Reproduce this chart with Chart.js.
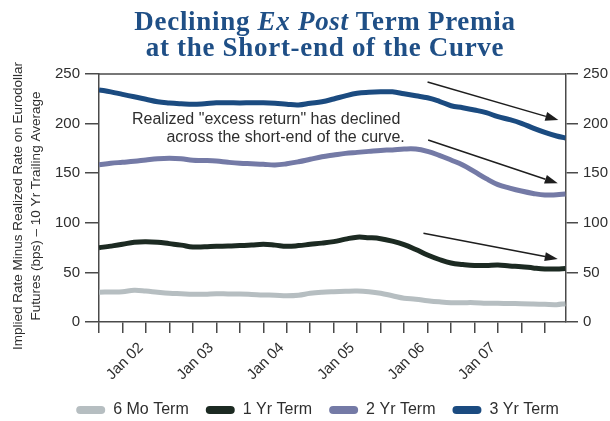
<!DOCTYPE html>
<html><head><meta charset="utf-8">
<script src="https://cdn.jsdelivr.net/npm/chart.js@4"></script>
<style>
html,body{margin:0;padding:0;background:#fff;overflow:hidden;}
#wrap{position:relative;width:610px;height:421px;}
canvas{position:absolute;left:0;top:0;}
#title{position:absolute;left:40px;top:8px;width:570px;text-align:center;font-family:"Liberation Serif","Times New Roman",serif;font-weight:bold;font-size:27px;line-height:26px;letter-spacing:0.7px;color:#1f4f86;}
</style></head>
<body><div id="wrap"><canvas id="c" width="610" height="421"></canvas><div id="title">Declining <i>Ex Post</i> Term Premia<br>at the Short-end of the Curve</div></div>
<script>
// x positions: months since Jan 2001 (4 = May 2001)
const months = [4,6,8,10,12,14,16,18,20,22,24,26,28,30,32,34,36,38,40,42,44,46,48,50,52,54,56,58,60,62,64,66,68,70,72,74,76,78,80,82,83.5];
const sixMo = [30,30.3,30.6,32,31.2,30,29,28.5,28,28,28.5,28.3,28.2,27.8,27.3,27,26.5,27,28.9,30,30.6,31,31.2,30.5,29,26.5,24,23,21.5,20.3,19.5,19.5,19.5,19,18.8,18.6,18.5,18.2,17.8,17.5,18.5];
const oneYr = [74.9,76.5,78.3,80.5,81,80.5,79,77.5,75.6,75.8,76.3,76.5,77,77.5,78.3,77.5,76.3,77,78.3,79.5,81,83.5,85.5,85,84,81.5,78,73,67.5,63,59.5,58,57,57,57.5,56.5,55.8,54.5,53.5,53.5,54];
const twoYr = [158.5,160,161,162,163.3,164.5,165,164.5,163,162.8,162.3,161,160,159.5,159,158.3,159.5,161.5,164,166.5,168.3,170,171,172,173,173.5,174.4,174.4,172,168,163.3,158.3,151.5,144.5,138.5,135,132,129.6,128,128.3,129];
const threeYr = [234,232,229.5,227,224.5,222,220.8,220,219.4,220,221,221,220.8,221,221,220.5,219.5,218.8,220.5,222,224.8,228,230.5,231.5,232,232,230,228,226,222.5,218,216,213.7,211,207,204,200.3,195.5,191.2,187.5,185.5];
const seriesNames = ['6 Mo Term','1 Yr Term','2 Yr Term','3 Yr Term'];
const tickMonths = [4,8,12,16,20,24,28,32,36,40,44,48,52,56,60,64,68,72,76,80];
const janMonths = [12,24,36,48,60,72];
const janLabels = ['Jan 02','Jan 03','Jan 04','Jan 05','Jan 06','Jan 07'];
const yTitle = ['Implied Rate Minus Realized Rate on Eurodollar','Futures (bps) \u2013 10 Yr Trailing Average'];
const noteLines = ['Realized "excess return" has declined','across the short-end of the curve.'];
// annotation anchors in data units [month, bps]
const noteAnchors = [[32.5,203.6],[35.8,186.2]];
const arrows = [[60,242,82.3,203.6],[60.1,183.5,82.2,139.8],[59.3,89.4,82.2,63.5]];

const colors = ['#b6bec1','#1c2a22','#747aa6','#1b4b80'];
const axisColor = '#4a4a4a';
const textColor = '#2e2e2e';
Chart.defaults.font.family = '"Liberation Sans", Arial, sans-serif';
Chart.defaults.color = textColor;

const series = [sixMo, oneYr, twoYr, threeYr];
const datasets = series.map((vals,i)=>({
  label: seriesNames[i],
  data: months.map((m,j)=>({x:m, y:vals[j]})),
  borderColor: colors[i],
  backgroundColor: colors[i],
  borderWidth: 5,
  pointRadius: 0,
  tension: 0.4,
  fill: false
}));

const decor = {
  id:'decor',
  afterDatasetsDraw(chart){
    const {ctx, chartArea:a, scales:{x,y}} = chart;
    ctx.save();
    ctx.strokeStyle = axisColor; ctx.lineWidth = 1.5;
    ctx.beginPath(); ctx.moveTo(a.left, a.top); ctx.lineTo(a.right, a.top); ctx.stroke();
    ctx.fillStyle = textColor;
    ctx.font = '16px "Liberation Sans", Arial, sans-serif';
    ctx.textAlign = 'center'; ctx.textBaseline = 'middle';
    noteLines.forEach((t,i)=>ctx.fillText(t, x.getPixelForValue(noteAnchors[i][0]), y.getPixelForValue(noteAnchors[i][1])));
    ctx.strokeStyle = '#1e1e1e'; ctx.fillStyle = '#1e1e1e'; ctx.lineWidth = 1.5;
    arrows.forEach(([m1,v1,m2,v2])=>{
      const x1=x.getPixelForValue(m1), y1=y.getPixelForValue(v1);
      const x2=x.getPixelForValue(m2), y2=y.getPixelForValue(v2);
      const ang = Math.atan2(y2-y1, x2-x1);
      const hl = 13, hw = 4.5;
      const bx = x2 - hl*Math.cos(ang), by = y2 - hl*Math.sin(ang);
      ctx.beginPath(); ctx.moveTo(x1,y1); ctx.lineTo(bx,by); ctx.stroke();
      ctx.beginPath();
      ctx.moveTo(x2,y2);
      ctx.lineTo(bx + hw*Math.sin(ang), by - hw*Math.cos(ang));
      ctx.lineTo(bx - hw*Math.sin(ang), by + hw*Math.cos(ang));
      ctx.closePath(); ctx.fill();
    });
    ctx.fillStyle = textColor;
    ctx.font = '13.5px "Liberation Sans", Arial, sans-serif';
    ctx.textAlign = 'center'; ctx.textBaseline = 'middle';
    ctx.translate(0, 206);
    ctx.rotate(-Math.PI/2);
    yTitle.forEach((t,i)=>ctx.fillText(t, 0, 18 + i*18));
    ctx.restore();
  }
};

const yAxisCommon = {
  min:0, max:250,
  ticks:{stepSize:50, padding:5, font:{size:15}, color:textColor},
  border:{color:axisColor, width:1.5},
};

new Chart(document.getElementById('c'), {
  type:'line',
  data:{datasets},
  options:{
    responsive:false, animation:false,
    layout:{padding:{top:74, left:25, right:0, bottom:-7}},
    scales:{
      x:{
        type:'linear', min:4, max:83.6,
        afterBuildTicks:(s)=>{ s.ticks = tickMonths.map(v=>({value:v})); },
        afterFit:(s)=>{ s.height = 63; },
        ticks:{autoSkip:false, minRotation:45, maxRotation:45, padding:6, labelOffset:-5, font:{size:15}, color:textColor,
          callback:(v)=>{ const k = janMonths.indexOf(v); return k>=0 ? janLabels[k] : ''; }},
        grid:{drawOnChartArea:false, drawTicks:true, tickLength:11, color:axisColor, lineWidth:1.5},
        border:{color:axisColor, width:1.5}
      },
      y:Object.assign({}, yAxisCommon, {
        position:'left',
        afterFit:(s)=>{ s.width = 74; },
        grid:{drawOnChartArea:false, tickLength:14, color:axisColor, lineWidth:1.5}
      }),
      y2:Object.assign({}, yAxisCommon, {
        position:'right',
        afterFit:(s)=>{ s.width = 44; },
        grid:{drawOnChartArea:false, tickLength:12, color:axisColor, lineWidth:1.5}
      })
    },
    plugins:{
      title:{display:false},
      tooltip:{enabled:false},
      legend:{
        position:'bottom',
        labels:{
          boxWidth:29, boxHeight:8, useBorderRadius:true, borderRadius:4,
          padding:17, font:{size:16}, color:textColor,
          generateLabels:(chart)=>Chart.defaults.plugins.legend.labels.generateLabels(chart).map(l=>Object.assign(l,{lineWidth:0, borderRadius:4}))
        }
      }
    }
  },
  plugins:[decor]
});
</script>
</body></html>
